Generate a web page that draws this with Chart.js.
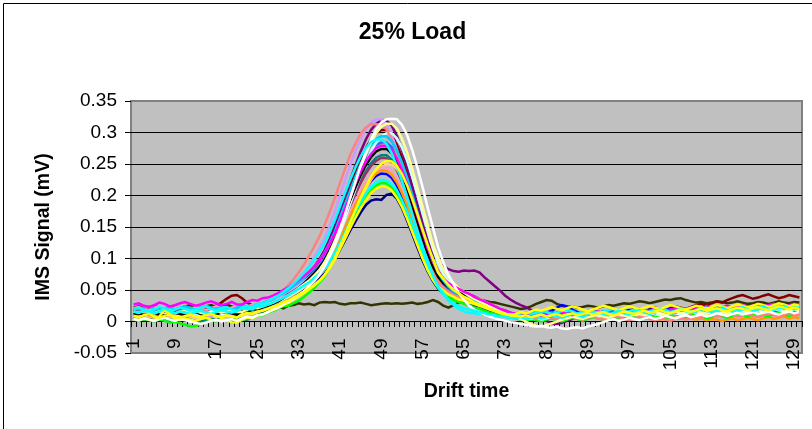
<!DOCTYPE html>
<html>
<head>
<meta charset="utf-8">
<script src="https://cdn.jsdelivr.net/npm/chart.js@4"></script>
<style>
  html, body { margin: 0; padding: 0; background: #fff; overflow: hidden; }
  canvas { display: block; }
</style>
</head>
<body>
<canvas id="c" width="812" height="429" style="width:812px;height:429px"></canvas>
<script>
const chartTitle = '25% Load';
const xTitle = 'Drift time';
const yTitle = 'IMS Signal (mV)';

const categories = [1,2,3,4,5,6,7,8,9,10,11,12,13,14,15,16,17,18,19,20,21,22,23,24,25,26,27,28,29,30,31,32,33,34,35,36,37,38,39,40,41,42,43,44,45,46,47,48,49,50,51,52,53,54,55,56,57,58,59,60,61,62,63,64,65,66,67,68,69,70,71,72,73,74,75,76,77,78,79,80,81,82,83,84,85,86,87,88,89,90,91,92,93,94,95,96,97,98,99,100,101,102,103,104,105,106,107,108,109,110,111,112,113,114,115,116,117,118,119,120,121,122,123,124,125,126,127,128,129,130];
const xTickLabels = ['1','9','17','25','33','41','49','57','65','73','81','89','97','105','113','121','129'];
const yTickValues = [-0.05, 0, 0.05, 0.1, 0.15, 0.2, 0.25, 0.3, 0.35];

const navy = [.012,.014,.011,.009,.013,.015,.012,.010,.013,.016,
.014,.011,.012,.015,.013,.010,.012,.014,.016,.013,
.011,.016,.015,.019,.019,.022,.024,.027,.031,.035,
.038,.043,.047,.052,.057,.062,.068,.076,.086,.099,
.114,.129,.145,.159,.173,.185,.192,.194,.193,.201,
.203,.195,.180,.160,.139,.117,.097,.079,.064,.052,
.045,.040,.039,.036,.033,.030,.026,.024,.020,.017,
.014,.012,.010,.008,.007,.009,.006,.008,.010,.007,
.009,.011,.008,.006,.009,.012,.010,.008,.011,.013,
.010,.012,.014,.011,.009,.012,.015,.013,.011,.014,
.016,.013,.011,.014,.017,.015,.012,.014,.016,.013,
.015,.018,.016,.013,.015,.017,.019,.016,.014,.017,
.019,.016,.018,.020,.017,.015,.018,.020,.017,.016];

const magenta = [.027,.029,.025,.023,.026,.030,.028,.024,.026,.029,
.031,.028,.025,.027,.030,.032,.029,.026,.028,.031,
.027,.027,.031,.034,.033,.037,.038,.041,.045,.050,
.054,.060,.066,.072,.079,.087,.097,.108,.123,.139,
.159,.180,.200,.220,.238,.254,.266,.275,.279,.279,
.272,.259,.240,.218,.193,.167,.142,.116,.096,.079,
.069,.061,.056,.052,.047,.044,.039,.035,.032,.028,
.024,.020,.017,.014,.012,.010,.009,.011,.008,.010,
.012,.009,.011,.014,.012,.010,.013,.015,.012,.014,
.016,.013,.011,.014,.017,.015,.013,.016,.018,.015,
.017,.020,.018,.016,.019,.021,.018,.020,.022,.019,
.021,.024,.022,.020,.023,.025,.022,.024,.026,.023,
.025,.027,.024,.026,.028,.025,.023,.026,.028,.025];

const yellow = [.009,.007,.010,.012,.008,.006,.009,.011,.008,.006,
.009,.011,.008,.007,.010,.012,.009,.007,.010,.008,
.006,.011,.014,.012,.016,.017,.020,.023,.026,.030,
.033,.038,.042,.047,.052,.058,.065,.074,.086,.101,
.119,.138,.158,.178,.197,.214,.230,.242,.250,.255,
.254,.247,.234,.216,.194,.170,.145,.121,.099,.078,
.068,.058,.050,.045,.039,.035,.030,.027,.024,.020,
.017,.014,.012,.010,.009,.008,.010,.007,.009,.011,
.008,.010,.012,.009,.011,.013,.010,.012,.014,.011,
.013,.015,.012,.010,.013,.016,.014,.012,.015,.017,
.014,.016,.018,.015,.013,.016,.019,.017,.015,.018,
.020,.017,.019,.021,.018,.016,.019,.022,.020,.018,
.021,.023,.020,.018,.021,.024,.022,.019,.022,.020];

const cyan = [.020,.022,.018,.016,.019,.023,.021,.017,.019,.022,
.020,.017,.019,.022,.024,.020,.018,.021,.023,.019,
.017,.022,.025,.023,.027,.028,.032,.037,.041,.047,
.053,.060,.068,.077,.087,.098,.110,.124,.142,.161,
.183,.205,.226,.245,.262,.275,.285,.289,.289,.282,
.267,.247,.223,.197,.169,.143,.118,.096,.073,.055,
.045,.035,.029,.024,.021,.019,.017,.015,.013,.011,
.010,.008,.007,.006,.005,.007,.004,.006,.008,.005,
.007,.010,.008,.006,.009,.012,.010,.007,.011,.013,
.015,.012,.010,.014,.017,.013,.011,.015,.018,.014,
.012,.016,.019,.015,.013,.017,.020,.016,.014,.018,
.021,.017,.015,.019,.022,.018,.016,.020,.023,.019,
.017,.021,.024,.020,.018,.022,.025,.021,.019,.023];

const purple = [.016,.014,.017,.019,.015,.013,.016,.018,.015,.017,
.019,.016,.014,.017,.020,.018,.015,.017,.019,.016,
.014,.019,.022,.020,.024,.025,.028,.032,.036,.041,
.047,.053,.060,.068,.077,.087,.099,.113,.131,.152,
.175,.200,.225,.248,.270,.289,.304,.314,.319,.319,
.311,.295,.272,.245,.215,.185,.155,.127,.108,.095,
.088,.083,.080,.079,.081,.080,.081,.078,.070,.063,
.056,.049,.041,.035,.030,.026,.023,.018,.012,.006,
.001,-.003,-.004,-.002,.001,.004,.007,.005,.008,.010,
.007,.009,.012,.010,.008,.011,.013,.010,.012,.015,
.013,.011,.014,.016,.013,.015,.018,.016,.014,.017,
.019,.016,.018,.020,.017,.015,.018,.021,.019,.017,
.020,.022,.019,.017,.020,.023,.021,.018,.021,.019];

const darkRed = [.015,.017,.014,.016,.018,.015,.013,.016,.018,.017,
.015,.018,.020,.017,.019,.022,.025,.030,.036,.041,
.042,.037,.030,.026,.026,.026,.029,.033,.037,.042,
.047,.053,.060,.067,.076,.085,.096,.109,.126,.146,
.168,.191,.215,.237,.257,.275,.289,.299,.304,.304,
.296,.281,.260,.234,.206,.177,.148,.120,.098,.080,
.069,.061,.056,.052,.047,.043,.040,.036,.032,.028,
.024,.020,.017,.014,.012,.010,.009,.008,.010,.007,
.009,.012,.010,.008,.011,.014,.012,.010,.013,.016,
.014,.012,.015,.018,.016,.014,.017,.020,.018,.016,
.019,.022,.020,.018,.021,.024,.022,.020,.023,.026,
.028,.025,.029,.032,.030,.034,.037,.040,.042,.039,
.036,.038,.041,.043,.040,.037,.039,.042,.040,.038];

const teal = [.005,.007,.004,.003,.006,.008,.005,.002,.004,.007,
.006,.003,.001,.000,.002,.004,.006,.003,.001,.003,
.005,.004,.003,.006,.010,.015,.019,.022,.026,.031,
.035,.041,.047,.054,.061,.069,.079,.090,.105,.122,
.142,.163,.184,.204,.222,.238,.251,.260,.264,.264,
.257,.244,.224,.202,.176,.150,.125,.101,.082,.066,
.055,.047,.041,.036,.032,.029,.027,.025,.022,.019,
.016,.013,.011,.009,.008,.007,.005,.003,.005,.002,
.004,.006,.003,.001,.004,.007,.005,.002,.006,.008,
.005,.003,.007,.009,.006,.004,.008,.011,.009,.006,
.010,.012,.009,.007,.011,.014,.012,.009,.013,.015,
.012,.010,.014,.017,.015,.012,.016,.018,.015,.013,
.017,.019,.016,.014,.018,.012,.008,.011,.015,.013];

const blue = [.013,.011,.014,.016,.012,.010,.013,.015,.011,.009,
.012,.014,.011,.013,.016,.013,.010,.012,.015,.013,
.011,.015,.019,.017,.017,.021,.024,.028,.031,.036,
.040,.045,.050,.055,.061,.068,.076,.085,.098,.112,
.129,.147,.165,.182,.198,.212,.223,.231,.235,.234,
.228,.216,.200,.180,.159,.136,.114,.094,.075,.061,
.052,.046,.042,.038,.035,.032,.030,.027,.024,.021,
.018,.015,.012,.010,.009,.008,.010,.012,.009,.011,
.014,.017,.022,.026,.024,.019,.015,.012,.014,.011,
.013,.016,.014,.011,.013,.016,.018,.015,.013,.016,
.019,.016,.014,.017,.020,.018,.015,.017,.020,.022,
.019,.017,.020,.023,.021,.018,.020,.023,.025,.022,
.019,.022,.025,.023,.020,.022,.025,.027,.024,.021];

const skyBlue = [.021,.019,.022,.024,.020,.018,.021,.023,.019,.022,
.024,.021,.019,.022,.025,.022,.020,.023,.021,.019,
.022,.026,.024,.023,.028,.029,.033,.036,.041,.045,
.050,.056,.062,.069,.077,.086,.097,.109,.125,.143,
.165,.187,.209,.230,.250,.267,.280,.290,.294,.294,
.286,.272,.252,.228,.201,.173,.146,.118,.095,.077,
.065,.055,.048,.043,.039,.036,.033,.030,.027,.023,
.020,.017,.014,.012,.010,.009,.011,.008,.010,.013,
.010,.008,.011,.014,.012,.009,.012,.015,.013,.010,
.013,.016,.014,.011,.014,.017,.015,.012,.015,.018,
.016,.013,.016,.019,.017,.014,.017,.020,.018,.015,
.018,.021,.019,.016,.019,.022,.020,.017,.020,.023,
.021,.018,.021,.024,.022,.019,.022,.025,.023,.020];

const paleTurquoise = [.011,.013,.010,.012,.015,.013,.011,.014,.012,.010,
.013,.015,.012,.010,.013,.016,.014,.011,.013,.015,
.012,.012,.016,.019,.018,.021,.024,.027,.031,.035,
.039,.044,.049,.055,.061,.068,.077,.088,.103,.120,
.141,.163,.187,.210,.232,.252,.270,.284,.294,.299,
.299,.291,.276,.255,.229,.201,.172,.144,.115,.093,
.075,.064,.056,.051,.047,.042,.038,.034,.031,.027,
.023,.019,.015,.012,.010,.008,.006,.004,.006,.003,
.005,.008,.006,.003,.007,.009,.006,.010,.012,.009,
.007,.011,.013,.010,.008,.012,.014,.011,.009,.013,
.015,.012,.010,.014,.016,.013,.011,.015,.017,.014,
.012,.016,.018,.015,.013,.017,.019,.016,.014,.018,
.020,.017,.015,.019,.021,.018,.016,.020,.022,.019];

const lightYellow = [.016,.014,.017,.015,.013,.016,.018,.015,.013,.016,
.018,.015,.017,.014,.012,.015,.017,.014,.016,.018,
.015,.015,.019,.022,.021,.024,.027,.030,.034,.038,
.042,.047,.053,.059,.065,.073,.082,.094,.110,.128,
.150,.173,.197,.221,.244,.266,.284,.299,.309,.314,
.314,.306,.290,.268,.242,.212,.182,.152,.122,.101,
.083,.071,.061,.053,.046,.040,.036,.032,.028,.024,
.021,.017,.013,.010,.007,.004,.000,-.004,-.007,-.008,
-.006,-.003,.000,.003,.005,.008,.006,.004,.007,.009,
.011,.008,.006,.009,.012,.010,.008,.011,.013,.010,
.012,.015,.013,.010,.013,.016,.014,.012,.015,.017,
.014,.012,.015,.018,.016,.013,.016,.019,.017,.015,
.018,.020,.017,.015,.018,.021,.019,.016,.019,.017];

const rose = [.021,.023,.020,.018,.022,.024,.021,.019,.022,.025,
.022,.020,.023,.021,.018,.021,.024,.022,.019,.022,
.025,.024,.023,.027,.027,.030,.032,.036,.039,.044,
.048,.053,.058,.064,.070,.077,.084,.094,.106,.121,
.138,.157,.175,.192,.208,.222,.233,.241,.245,.244,
.238,.226,.210,.190,.168,.145,.123,.100,.081,.067,
.057,.049,.043,.039,.036,.033,.031,.028,.025,.022,
.019,.016,.013,.011,.010,.009,.007,.010,.008,.006,
.009,.011,.008,.006,.009,.012,.010,.007,.010,.008,
.006,.009,.011,.008,.006,.009,.012,.010,.007,.010,
.008,.011,.013,.010,.008,.011,.009,.007,.010,.012,
.009,.007,.010,.012,.009,.011,.008,.006,.009,.011,
.008,.010,.012,.009,.007,.010,.012,.009,.011,.008];

const lavender = [.013,.011,.014,.012,.010,.013,.015,.012,.010,.013,
.015,.012,.010,.013,.011,.009,.012,.014,.011,.013,
.016,.015,.014,.018,.018,.022,.027,.031,.037,.043,
.049,.058,.067,.077,.088,.102,.116,.132,.153,.175,
.200,.225,.249,.271,.290,.305,.316,.321,.321,.312,
.296,.273,.246,.216,.184,.154,.126,.098,.078,.062,
.052,.046,.041,.037,.034,.031,.029,.026,.023,.020,
.017,.014,.012,.010,.008,.007,.009,.006,.008,.011,
.008,.006,.009,.012,.010,.007,.010,.013,.011,.008,
.011,.014,.012,.009,.012,.015,.013,.010,.013,.016,
.014,.011,.014,.017,.015,.012,.015,.018,.016,.013,
.016,.019,.017,.014,.017,.020,.018,.015,.018,.021,
.019,.016,.019,.022,.020,.017,.020,.023,.021,.018];

const coral = [.015,.013,.016,.014,.012,.015,.017,.014,.012,.015,
.017,.014,.016,.019,.016,.014,.017,.015,.013,.016,
.018,.017,.020,.024,.024,.027,.031,.036,.042,.050,
.058,.067,.078,.090,.104,.119,.135,.153,.174,.196,
.220,.243,.265,.283,.298,.308,.313,.313,.312,.305,
.289,.267,.241,.211,.181,.151,.124,.098,.078,.063,
.053,.047,.042,.039,.036,.033,.030,.027,.024,.021,
.018,.015,.012,.010,.009,.007,.009,.006,.004,.007,
.009,.006,.004,.007,.010,.008,.005,.003,.006,.008,
.005,.003,.006,.009,.007,.004,.002,.005,.008,.006,
.004,.002,.005,.003,.001,.004,.006,.003,.005,.008,
.006,.009,.011,.008,.010,.013,.011,.008,.010,.012,
.009,.007,.010,.013,.011,.008,.011,.014,.012,.010];

const black = [.011,.013,.010,.012,.014,.011,.009,.012,.014,.012,
.010,.013,.015,.012,.010,.013,.011,.014,.016,.013,
.011,.016,.015,.019,.019,.022,.025,.028,.032,.037,
.042,.047,.053,.060,.068,.076,.086,.097,.113,.130,
.150,.172,.193,.213,.232,.248,.261,.270,.274,.274,
.267,.253,.234,.211,.185,.158,.132,.107,.087,.071,
.061,.054,.050,.046,.042,.038,.035,.032,.029,.025,
.021,.017,.014,.012,.010,.009,.011,.008,.010,.012,
.009,.011,.014,.012,.010,.013,.015,.012,.010,.013,
.015,.013,.011,.014,.016,.013,.011,.014,.017,.015,
.013,.016,.018,.015,.013,.016,.019,.017,.015,.018,
.020,.017,.015,.018,.021,.019,.017,.020,.022,.019,
.017,.020,.023,.021,.019,.022,.024,.021,.019,.022];

const white = [.004,.002,.005,.003,.001,.004,.006,.003,.001,.004,
.002,.000,-.002,-.004,-.002,.001,.003,.000,.002,.004,
.001,.005,.008,.006,.010,.011,.015,.019,.022,.027,
.031,.036,.042,.048,.056,.064,.074,.087,.104,.123,
.146,.171,.197,.222,.247,.269,.289,.305,.316,.321,
.322,.321,.312,.296,.272,.244,.213,.180,.149,.118,
.094,.074,.059,.045,.035,.025,.019,.015,.011,.008,
.005,.003,.001,-.001,-.002,-.004,-.005,-.007,-.008,-.007,
-.009,-.010,-.008,-.011,-.012,-.010,-.009,-.011,-.008,-.006,
-.004,-.001,.002,.004,.001,.003,.006,.004,.002,.005,
.007,.004,.006,.009,.007,.005,.008,.010,.007,.009,
.011,.008,.010,.013,.011,.009,.012,.014,.011,.013,
.015,.012,.014,.016,.013,.011,.014,.016,.013,.015];

const green = [.003,.001,.004,.002,.000,.003,.001,-.002,.000,-.003,
-.005,-.008,-.007,-.004,-.001,.002,.000,.003,.001,.004,
.002,.002,.006,.005,.010,.010,.014,.017,.021,.024,
.025,.029,.033,.039,.046,.053,.062,.071,.085,.100,
.117,.134,.152,.169,.184,.198,.208,.216,.220,.219,
.213,.202,.186,.167,.145,.123,.102,.082,.066,.053,
.045,.039,.034,.031,.028,.025,.022,.020,.017,.014,
.012,.010,.008,.006,.005,.003,.001,.004,.002,.000,
.003,.005,.002,.000,.003,.006,.004,.001,.004,.007,
.005,.002,.005,.008,.006,.003,.006,.009,.007,.004,
.007,.010,.008,.005,.008,.011,.009,.006,.009,.012,
.010,.005,.007,.010,.008,.006,.009,.012,.010,.008,
.011,.013,.010,.008,.011,.014,.012,.009,.012,.010];

const orange = [.011,.009,.012,.010,.008,.011,.013,.010,.008,.011,
.013,.010,.012,.009,.011,.014,.012,.009,.011,.013,
.010,.014,.017,.015,.019,.020,.023,.026,.030,.034,
.038,.043,.048,.054,.060,.068,.076,.085,.098,.113,
.131,.150,.168,.186,.202,.216,.228,.235,.240,.239,
.233,.221,.204,.184,.161,.138,.115,.094,.079,.066,
.059,.052,.049,.046,.043,.040,.037,.034,.030,.026,
.022,.018,.015,.012,.010,.008,.006,.008,.005,.007,
.009,.006,.004,.007,.009,.006,.004,.007,.010,.008,
.005,.003,.006,.009,.007,.004,.006,.009,.007,.005,
.008,.006,.003,.005,.008,.006,.004,.007,.005,.003,
.005,.002,.004,.003,.001,.003,.005,.002,.004,.006,
.004,.002,.005,.007,.004,.006,.008,.005,.007,.005];

const royalBlue = [.013,.011,.014,.016,.012,.010,.013,.015,.012,.014,
.016,.013,.011,.014,.012,.015,.017,.014,.012,.015,
.013,.013,.017,.020,.019,.022,.025,.028,.033,.037,
.042,.048,.054,.061,.069,.078,.088,.100,.116,.135,
.156,.178,.200,.221,.240,.257,.270,.280,.284,.284,
.277,.262,.242,.218,.191,.164,.137,.112,.089,.072,
.060,.052,.046,.041,.037,.034,.031,.028,.025,.022,
.019,.016,.013,.011,.009,.011,.008,.010,.013,.010,
.012,.015,.012,.010,.013,.016,.014,.011,.014,.017,
.015,.012,.015,.018,.016,.013,.016,.019,.017,.014,
.017,.020,.018,.015,.018,.021,.019,.016,.019,.022,
.020,.017,.020,.023,.021,.018,.021,.024,.022,.019,
.022,.025,.023,.020,.023,.026,.024,.021,.024,.027];

const cyan2 = [.016,.014,.017,.015,.013,.016,.018,.015,.013,.016,
.014,.012,.015,.017,.014,.012,.015,.018,.016,.014,
.016,.021,.020,.019,.024,.024,.027,.030,.034,.038,
.042,.047,.052,.057,.062,.069,.076,.084,.096,.109,
.125,.142,.159,.175,.190,.203,.214,.221,.225,.224,
.218,.208,.192,.174,.153,.132,.111,.089,.070,.055,
.043,.033,.026,.020,.016,.014,.013,.012,.011,.010,
.009,.008,.010,.012,.010,.013,.015,.012,.014,.017,
.015,.012,.014,.017,.019,.016,.013,.015,.018,.016,
.013,.015,.018,.020,.017,.014,.016,.019,.017,.014,
.016,.019,.021,.018,.015,.017,.020,.018,.015,.017,
.020,.022,.019,.016,.018,.021,.019,.016,.019,.022,
.024,.021,.019,.022,.025,.023,.020,.023,.026,.024];

const yellow2 = [.004,.002,.005,.003,.001,.008,.018,.012,.004,.002,
.005,.003,.001,.004,.006,.003,.001,.004,.002,-.001,
-.002,.003,.006,.005,.010,.011,.015,.018,.022,.026,
.030,.035,.040,.045,.051,.057,.064,.073,.085,.098,
.115,.132,.149,.165,.180,.193,.204,.211,.215,.214,
.208,.197,.182,.163,.142,.121,.100,.081,.066,.055,
.049,.043,.039,.035,.033,.030,.028,.025,.022,.019,
.016,.014,.012,.010,.012,.015,.013,.016,.019,.017,
.020,.023,.020,.018,.021,.024,.022,.019,.016,.019,
.022,.025,.023,.020,.018,.021,.024,.022,.019,.022,
.025,.022,.020,.023,.026,.024,.021,.019,.022,.025,
.023,.020,.023,.026,.024,.021,.024,.027,.025,.022,
.025,.028,.026,.023,.026,.029,.027,.024,.027,.025];

const plum = [.019,.017,.020,.022,.018,.016,.019,.021,.018,.020,
.022,.019,.017,.020,.023,.020,.018,.021,.019,.017,
.020,.024,.022,.025,.026,.027,.031,.034,.038,.042,
.047,.052,.058,.064,.070,.078,.087,.097,.111,.127,
.145,.165,.184,.203,.220,.235,.247,.255,.260,.259,
.252,.240,.222,.201,.177,.153,.129,.104,.085,.069,
.059,.053,.049,.046,.043,.040,.037,.034,.030,.026,
.022,.018,.015,.012,.010,.008,.010,.007,.009,.012,
.010,.007,.010,.013,.011,.008,.011,.014,.012,.009,
.012,.015,.013,.010,.013,.016,.014,.011,.014,.017,
.015,.012,.015,.018,.016,.013,.016,.019,.017,.014,
.017,.020,.018,.015,.018,.021,.019,.016,.019,.022,
.020,.017,.020,.023,.021,.018,.021,.024,.022,.019];

const tan = [.009,.007,.010,.008,.006,.009,.011,.008,.006,.009,
.011,.008,.006,.009,.012,.009,.007,.010,.008,.011,
.009,.009,.013,.016,.015,.018,.020,.023,.026,.030,
.033,.038,.042,.047,.052,.057,.064,.073,.085,.099,
.117,.135,.155,.174,.193,.210,.225,.237,.245,.250,
.249,.242,.230,.212,.191,.167,.143,.119,.097,.080,
.066,.058,.052,.048,.045,.042,.039,.036,.032,.028,
.024,.020,.016,.013,.010,.008,.006,.008,.005,.007,
.009,.006,.008,.011,.009,.006,.008,.011,.009,.007,
.010,.012,.009,.007,.010,.013,.011,.008,.011,.013,
.010,.008,.011,.014,.012,.009,.012,.010,.008,.011,
.009,.007,.010,.012,.009,.011,.008,.006,.009,.011,
.008,.006,.009,.012,.010,.007,.010,.013,.011,.009];

const olive = [.022,.024,.021,.023,.025,.022,.020,.023,.025,.022,
.024,.026,.023,.021,.024,.026,.023,.025,.027,.024,
.022,.025,.023,.021,.024,.022,.023,.022,.024,.021,
.025,.026,.029,.027,.028,.026,.030,.031,.030,.031,
.028,.027,.029,.029,.030,.028,.026,.027,.028,.029,
.028,.029,.028,.029,.030,.028,.029,.031,.034,.031,
.025,.022,.026,.030,.033,.035,.036,.034,.033,.031,
.030,.028,.026,.024,.022,.020,.021,.024,.028,.031,
.034,.033,.028,.025,.023,.024,.022,.023,.025,.024,
.022,.024,.026,.025,.027,.029,.028,.030,.032,.031,
.029,.031,.033,.035,.034,.036,.037,.034,.032,.030,
.031,.029,.030,.032,.031,.029,.030,.032,.030,.028,
.029,.031,.030,.028,.030,.032,.030,.029,.031,.030];

// Listed top-most first (Chart.js draws the first dataset on top)
const seriesData = [yellow, cyan, white, yellow2, cyan2, magenta, lightYellow, skyBlue, black, coral,
  paleTurquoise, royalBlue, lavender, green, orange, rose, tan, blue, plum, purple, darkRed, teal, navy, olive];
const seriesLabels = ['Yellow', 'Cyan', 'White', 'Yellow 2', 'Cyan 2', 'Magenta', 'Light yellow', 'Sky blue', 'Black', 'Coral',
  'Pale turquoise', 'Royal blue', 'Lavender', 'Green', 'Orange', 'Rose', 'Tan', 'Blue', 'Plum', 'Purple', 'Dark red', 'Teal', 'Navy', 'Olive'];
const seriesColors = ['#FFFF00', '#00FFFF', '#FFFFFF', '#FFFF00', '#00FFFF', '#FF00FF', '#FFFF99', '#00CCFF', '#000000', '#FF8080',
  '#CCFFFF', '#3366FF', '#CC99FF', '#00FF00', '#FF9900', '#FF99CC', '#FFCC99', '#0000FF', '#993366', '#800080', '#800000', '#008080', '#000080', '#333300'];

const FONT = "'Liberation Sans', Arial, Helvetica, sans-serif";

const plotFrame = {
  id: 'plotFrame',
  beforeDraw(chart) {
    const {ctx, chartArea: a, width, height} = chart;
    ctx.save();
    // outer chart frame (top and left edges visible)
    ctx.strokeStyle = '#000';
    ctx.lineWidth = 1;
    ctx.beginPath();
    ctx.moveTo(3.5, height);
    ctx.lineTo(3.5, 3.5);
    ctx.lineTo(width, 3.5);
    ctx.stroke();
    // plot area
    ctx.fillStyle = '#C0C0C0';
    ctx.fillRect(a.left, a.top, a.right - a.left, a.bottom - a.top);
    ctx.strokeStyle = '#808080';
    ctx.lineWidth = 2;
    ctx.strokeRect(a.left, a.top, a.right - a.left, a.bottom - a.top);
    ctx.restore();
  }
};

new Chart(document.getElementById('c'), {
  type: 'line',
  data: {
    labels: categories,
    datasets: seriesData.map((d, i) => ({
      label: seriesLabels[i],
      data: d,
      borderColor: seriesColors[i],
      backgroundColor: seriesColors[i],
      borderWidth: 2.5,
      pointRadius: 0,
      tension: 0,
      fill: false
    }))
  },
  options: {
    responsive: false,
    animation: false,
    devicePixelRatio: 1,
    layout: { padding: { left: 23, right: 10, top: 0, bottom: 76 } },
    plugins: {
      legend: { display: false },
      tooltip: { enabled: false },
      title: {
        display: true,
        text: chartTitle,
        color: '#000',
        font: { family: FONT, size: 23, weight: 'bold' },
        padding: { top: 19, bottom: 54.4 }
      }
    },
    scales: {
      x: {
        type: 'category',
        position: { y: 0 },
        offset: true,
        grid: { display: true, drawOnChartArea: false, drawTicks: true, tickLength: 5, color: '#000', offset: true },
        border: { display: true, color: '#000', width: 1 },
        ticks: {
          autoSkip: false,
          minRotation: 90,
          maxRotation: 90,
          padding: 12,
          color: '#000',
          font: { family: FONT, size: 19 },
          callback: function (value) {
            const lbl = String(this.getLabelForValue(value));
            return xTickLabels.includes(lbl) ? lbl : '';
          }
        },
        title: {
          display: true,
          text: xTitle,
          color: '#000',
          font: { family: FONT, size: 19.5, weight: 'bold' },
          padding: { top: 0, bottom: 0 }
        },
        afterFit: (s) => { s.height = 82; s.paddingLeft = 0; s.paddingRight = 0; }
      },
      y: {
        type: 'linear',
        position: 'left',
        min: yTickValues[0],
        max: yTickValues[yTickValues.length - 1],
        grid: {
          color: (c) => (c.tick && (c.tick.value > 0.34 || c.tick.value < -0.04)) ? 'rgba(0,0,0,0)' : '#000',
          tickColor: '#000',
          tickLength: 6,
          lineWidth: 1
        },
        border: { display: false },
        ticks: {
          stepSize: 0.05,
          padding: 8,
          color: '#000',
          font: { family: FONT, size: 19 },
          callback: (v) => String(parseFloat(Number(v).toFixed(2)))
        },
        title: {
          display: true,
          text: yTitle,
          color: '#000',
          font: { family: FONT, size: 19.5, weight: 'bold' },
          padding: { top: 9.3, bottom: 0 }
        },
        afterFit: (s) => { s.width = 108; }
      }
    }
  },
  plugins: [plotFrame]
});
</script>
</body>
</html>
